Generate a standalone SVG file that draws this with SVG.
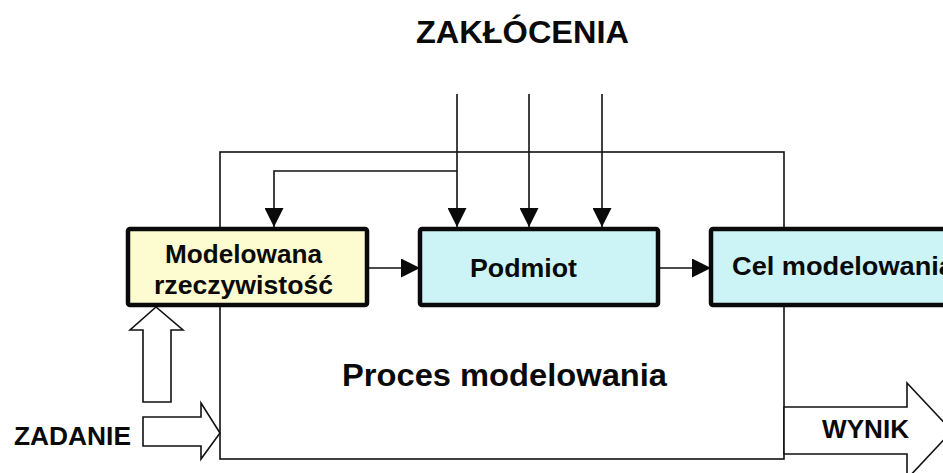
<svg xmlns="http://www.w3.org/2000/svg" width="943" height="473" viewBox="0 0 943 473">
  <style>
    .t { font-family: "Liberation Sans", Arial, sans-serif; font-weight: bold; fill: #0a0a0a; }
    .line { fill: none; stroke: #111; stroke-width: 1.6; }
    .hollow { fill: #fff; stroke: #111; stroke-width: 1.6; stroke-linejoin: miter; }
    .box { stroke: #0a0a0a; stroke-width: 4.5; }
    .yellow { fill: #fdfbd0; }
    .cyan { fill: #ccf4f7; }
  </style>
  <defs>
    <marker id="head" markerUnits="userSpaceOnUse" markerWidth="19" markerHeight="19" viewBox="0 0 18 18" refX="18" refY="9" orient="auto">
      <path d="M0,0 L18,9 L0,18 Z" fill="#0a0a0a"/>
    </marker>
  </defs>

  <rect width="943" height="473" fill="#fff"/>

  <!-- process frame -->
  <g id="process">
    <rect x="220" y="152" width="564" height="307" fill="none" stroke="#111" stroke-width="1.6"/>
    <text class="t" x="342" y="386" font-size="32" textLength="325" lengthAdjust="spacingAndGlyphs">Proces modelowania</text>
  </g>

  <g id="connectors">
    <!-- disturbances -->
    <line class="line" x1="457" y1="94" x2="457" y2="227" marker-end="url(#head)"/>
    <line class="line" x1="529" y1="94" x2="529" y2="227" marker-end="url(#head)"/>
    <line class="line" x1="602" y1="94" x2="602" y2="227" marker-end="url(#head)"/>
    <!-- feedback into reality box -->
    <polyline class="line" points="457,171 274,171 274,227" marker-end="url(#head)"/>
    <!-- chain between blocks -->
    <line class="line" x1="369" y1="268" x2="420" y2="268" marker-end="url(#head)"/>
    <line class="line" x1="660" y1="268" x2="711" y2="268" marker-end="url(#head)"/>
    <!-- hollow arrows -->
    <polygon class="hollow" points="143,402 171,402 171,330 183,330 156,307 130,330 143,330"/>
    <polygon class="hollow" points="143,417 201,417 201,403 220,433 201,459 201,446 143,446"/>
    <polygon class="hollow" points="784,407 907,407 907,383 952,431 907,479 907,454 784,454"/>
  </g>

  <g id="zaklocenia">
    <text class="t" x="416" y="43" font-size="31" textLength="213" lengthAdjust="spacingAndGlyphs">ZAKŁÓCENIA</text>
  </g>

  <g id="rzeczywistosc">
    <rect class="box yellow" x="128" y="229" width="239" height="76" rx="2"/>
    <text class="t" x="165" y="263" font-size="26" textLength="157" lengthAdjust="spacingAndGlyphs">Modelowana</text>
    <text class="t" x="154" y="294" font-size="26" textLength="179" lengthAdjust="spacingAndGlyphs">rzeczywistość</text>
  </g>

  <g id="podmiot">
    <rect class="box cyan" x="420" y="229" width="238" height="76" rx="2"/>
    <text class="t" x="470" y="277" font-size="26" textLength="107" lengthAdjust="spacingAndGlyphs">Podmiot</text>
  </g>

  <g id="cel">
    <rect class="box cyan" x="711" y="229" width="260" height="76" rx="2"/>
    <text class="t" x="732" y="275" font-size="26" textLength="222" lengthAdjust="spacingAndGlyphs">Cel modelowania</text>
  </g>

  <g id="zadanie">
    <text class="t" x="14" y="445" font-size="26" textLength="117" lengthAdjust="spacingAndGlyphs">ZADANIE</text>
  </g>

  <g id="wynik">
    <text class="t" x="822" y="438" font-size="26" textLength="87" lengthAdjust="spacingAndGlyphs">WYNIK</text>
  </g>
</svg>
